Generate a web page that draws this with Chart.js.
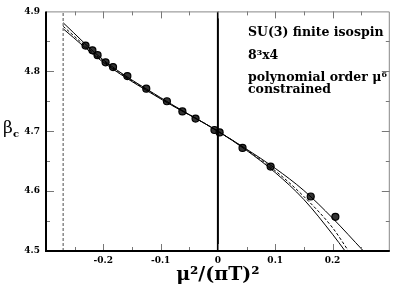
<!DOCTYPE html>
<html><head><meta charset="utf-8">
<script src="https://cdn.jsdelivr.net/npm/chart.js@4"></script>
<style>html,body{margin:0;padding:0;background:#fff}#w{width:395px;height:286px}</style>
</head><body><div id="w"><canvas id="c"></canvas></div>
<script>
// data
const pointsX = [-0.231,-0.219,-0.210,-0.196,-0.183,-0.158,-0.125,-0.089,-0.062,-0.039,-0.006,0.003,0.043,0.092,0.162,0.205];
const pointsY = [4.843,4.835,4.827,4.815,4.807,4.792,4.771,4.750,4.733,4.721,4.702,4.698,4.672,4.641,4.591,4.557];
const centralX = [-0.27,-0.2,-0.1,0,0.05,0.1,0.15,0.2,0.228];
const centralY = [4.875,4.817,4.755,4.700,4.669,4.634,4.591,4.539,4.500];
const upperX = [-0.27,-0.2,-0.1,0,0.05,0.1,0.15,0.2,0.254];
const upperY = [4.881,4.819,4.756,4.700,4.670,4.638,4.601,4.555,4.500];
const lowerX = [-0.27,-0.2,-0.1,0,0.05,0.1,0.15,0.2,0.222];
const lowerY = [4.871,4.815,4.754,4.700,4.668,4.631,4.586,4.528,4.500];
const zeroLineX = [0,0];
const limitLineX = [-0.27,-0.27];
const vLineY = [4.5,4.9];
const xTickLabels = {'-0.2':'-0.2','-0.1':'-0.1','0':'0','0.1':'0.1','0.2':'0.2'};
const yTickLabels = {'4.5':'4.5','4.6':'4.6','4.7':'4.7','4.8':'4.8','4.9':'4.9'};
const annotation = ['SU(3) finite isospin','8³x4','polynomial order μ⁶','constrained'];

const zip=(xs,ys)=>xs.map((x,i)=>({x:x,y:ys[i]}));
const SERIF='"DejaVu Serif", "Liberation Serif", serif';

const ticksPlugin={
 id:'ticksIn',
 afterDraw(chart){
  const ctx=chart.ctx,a=chart.chartArea,xs=chart.scales.x,ys=chart.scales.y;
  ctx.save();
  ctx.strokeStyle='#777';ctx.lineWidth=1;
  for(let i=-6;i<=6;i++){
   const v=i*0.05, px=Math.round(xs.getPixelForValue(v))+0.5;
   if(px<a.left+2||px>a.right-2) continue;
   const L=(i%2===0)?7:4;
   ctx.beginPath();ctx.moveTo(px,a.bottom);ctx.lineTo(px,a.bottom-L);
   ctx.moveTo(px,a.top);ctx.lineTo(px,a.top+L);ctx.stroke();
  }
  for(let i=0;i<=8;i++){
   const v=4.5+i*0.05, py=Math.round(ys.getPixelForValue(v))+0.5;
   if(py<a.top+2||py>a.bottom-2) continue;
   const L=(i%2===0)?8:4;
   ctx.beginPath();ctx.moveTo(a.left,py);ctx.lineTo(a.left+L,py);
   ctx.moveTo(a.right,py);ctx.lineTo(a.right-L,py);ctx.stroke();
  }
  // frame
  ctx.strokeStyle='#888';ctx.lineWidth=1;
  ctx.beginPath();ctx.moveTo(a.left,a.top+0.5);ctx.lineTo(a.right-0.5,a.top+0.5);ctx.lineTo(a.right-0.5,a.bottom);ctx.stroke();
  ctx.strokeStyle='#000';ctx.lineWidth=2;
  ctx.beginPath();ctx.moveTo(a.left,a.top);ctx.lineTo(a.left,a.bottom);ctx.lineTo(a.right,a.bottom);ctx.stroke();
  // annotation
  ctx.fillStyle='#000';ctx.textBaseline='alphabetic';ctx.textAlign='left';
  ctx.font='bold 12.5px '+SERIF;
  const tx=a.left+202;
  ctx.fillText(annotation[0],tx,36);
  ctx.fillText(annotation[1],tx,59);
  ctx.fillText(annotation[2],tx,81);
  ctx.fillText(annotation[3],tx,93);
  // y title
  ctx.font='17px '+SERIF;
  ctx.fillText('β',3,133);
  ctx.font='bold 10px '+SERIF;
  ctx.fillText('c',13,137);
  ctx.restore();
 }
};

new Chart(document.getElementById('c'),{
 type:'scatter',
 data:{datasets:[
  {data:zip(limitLineX,vLineY),showLine:true,borderColor:'#888',borderWidth:1.5,borderDash:[3,2],pointRadius:0},
  {data:zip(zeroLineX,vLineY),showLine:true,borderColor:'#000',borderWidth:2,pointRadius:0},
  {data:zip(upperX,upperY),showLine:true,borderColor:'#000',borderWidth:1,pointRadius:0,cubicInterpolationMode:'monotone'},
  {data:zip(lowerX,lowerY),showLine:true,borderColor:'#000',borderWidth:1,pointRadius:0,cubicInterpolationMode:'monotone'},
  {data:zip(centralX,centralY),showLine:true,borderColor:'#000',borderWidth:1,borderDash:[3,2],pointRadius:0,cubicInterpolationMode:'monotone'},
  {data:zip(pointsX,pointsY),showLine:false,pointStyle:'circle',pointRadius:3.5,backgroundColor:'#333',borderColor:'#000',borderWidth:1.2}
 ]},
 options:{
  animation:false,responsive:true,maintainAspectRatio:false,
  layout:{padding:{left:0,right:3,top:4,bottom:0}},
  plugins:{legend:{display:false},tooltip:{enabled:false}},
  scales:{
   x:{type:'linear',min:-0.3,max:0.3,
    grid:{display:false,drawTicks:false},border:{display:false},
    afterFit:s=>{s.height=35;},
    ticks:{stepSize:0.1,padding:4,color:'#000',font:{family:SERIF,size:9,weight:'bold'},
     callback:v=>{const k=String(Math.round(v*10)/10);return xTickLabels[k]!==undefined?xTickLabels[k]:'';}},
    title:{display:true,text:'μ²/(πT)²',color:'#000',font:{family:SERIF,size:19,weight:'bold'},padding:{top:0,bottom:0}}
   },
   y:{type:'linear',min:4.5,max:4.9,
    grid:{display:false,drawTicks:false},border:{display:false},
    afterFit:s=>{s.width=46;},
    ticks:{stepSize:0.1,padding:6,color:'#000',font:{family:SERIF,size:9,weight:'bold'},
     callback:v=>{const k=(Math.round(v*10)/10).toFixed(1);return yTickLabels[k]!==undefined?yTickLabels[k]:'';}}
   }
  }
 },
 plugins:[ticksPlugin]
});
</script></body></html>
